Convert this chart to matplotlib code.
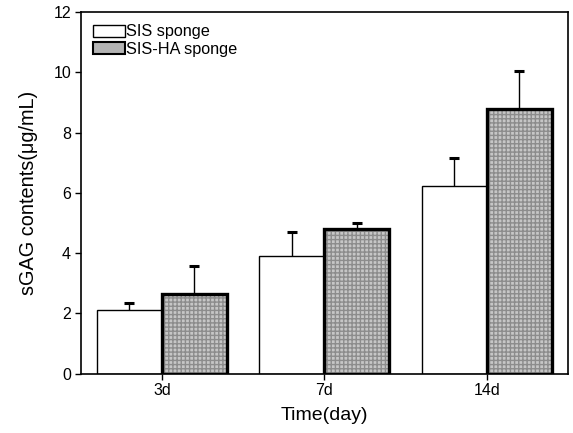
import numpy as np
import matplotlib
matplotlib.use("Agg")
import matplotlib.pyplot as plt
from matplotlib.patches import Patch

plt.rcParams['font.family'] = ['Liberation Sans', 'DejaVu Sans']

# data
days = ['3d', '7d', '14d']
sis_mean = [2.11, 3.91, 6.24]
sis_err = [0.22, 0.80, 0.93]
ha_mean = [2.66, 4.80, 8.80]
ha_err = [0.90, 0.19, 1.25]

x = np.arange(1, len(days) + 1)
w = 0.4

fig = plt.figure(figsize=(5.73, 4.33), dpi=100)
ax = fig.add_axes([0.141, 0.137, 0.850, 0.835])

# white bars, error bars only upward with a cap on top
ax.bar(x - w / 2, sis_mean, w, color='white', edgecolor='black', linewidth=1.0, zorder=2)
ax.errorbar(x - w / 2, sis_mean, yerr=[np.zeros(3), sis_err], fmt='none',
            ecolor='black', elinewidth=1.0, capsize=0, zorder=3)
ax.plot(x - w / 2, np.add(sis_mean, sis_err), ls='none', marker='_', ms=7, mew=2.2,
        color='black', zorder=3)

# stippled grey bars: fill with hatch, then thick black outline on top
ax.bar(x + w / 2, ha_mean, w, color='#c6c6c6', edgecolor='#8c8c8c', hatch='++++',
       linewidth=0, zorder=2)
ax.bar(x + w / 2, ha_mean, w, fill=False, edgecolor='black', linewidth=2.4, zorder=3)
ax.errorbar(x + w / 2, ha_mean, yerr=[np.zeros(3), ha_err], fmt='none',
            ecolor='black', elinewidth=1.0, capsize=0, zorder=1)
ax.plot(x + w / 2, np.add(ha_mean, ha_err), ls='none', marker='_', ms=7, mew=2.2,
        color='black', zorder=3)

ax.set_xlim(0.5, 3.5)
ax.set_ylim(0, 12)
ax.set_yticks(range(0, 13, 2))
ax.set_xticks(x)
ax.set_xticklabels(days)
ax.tick_params(direction='out', length=4, width=1, labelsize=11.5, pad=3)
ax.set_xlabel('Time(day)', fontsize=14, labelpad=6)
ax.set_ylabel('sGAG contents(\u03bcg/mL)', fontsize=14.3, labelpad=11)
for s in ax.spines.values():
    s.set_linewidth(1.2)

handles = [Patch(facecolor='white', edgecolor='black', linewidth=1.0),
           Patch(facecolor='#b4b4b4', edgecolor='black', linewidth=1.5)]
ax.legend(handles, ['SIS sponge', 'SIS-HA sponge'], loc='upper left', frameon=False,
          fontsize=11.7, handlelength=2.0, handleheight=0.75, handletextpad=0.05,
          labelspacing=0.15, borderaxespad=0.45, borderpad=0.3)

fig.savefig('out.png', dpi=100)
